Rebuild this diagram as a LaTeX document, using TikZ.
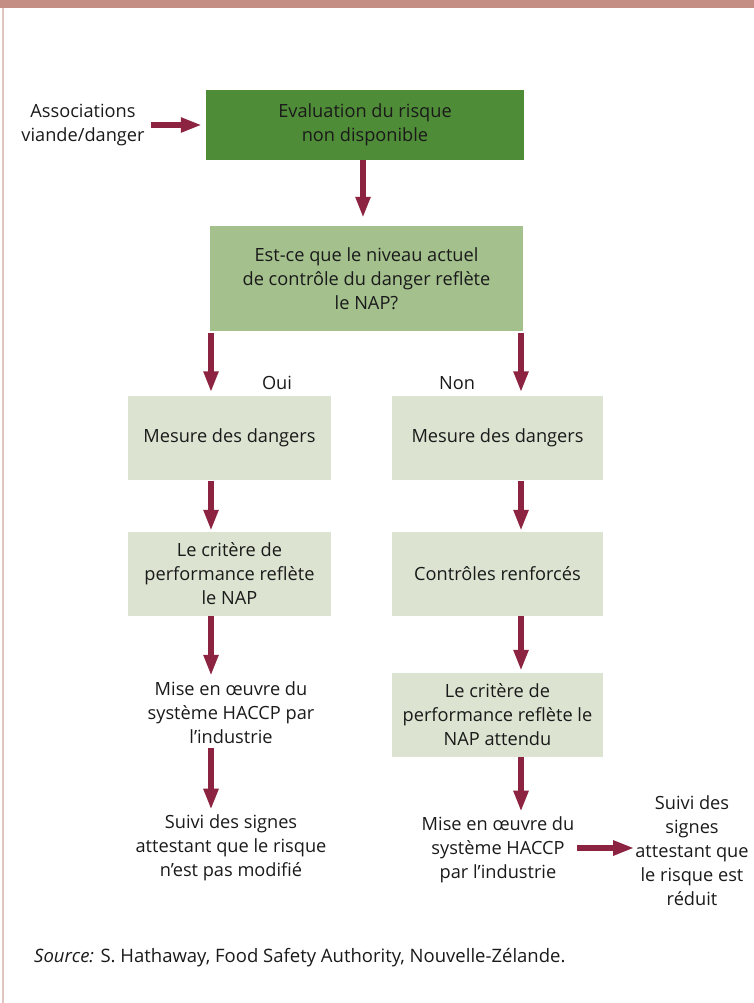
\documentclass[tikz,border=0pt]{standalone}
\usepackage{fontspec}
\setmainfont{Open Sans}
\usetikzlibrary{arrows.meta}

\definecolor{bandrose}{HTML}{C48E84}
\definecolor{edgerose}{HTML}{DFC6C0}
\definecolor{darkgreen}{HTML}{4E8C37}
\definecolor{midgreen}{HTML}{A3C08D}
\definecolor{palegreen}{HTML}{DCE4D1}
\definecolor{arrowred}{HTML}{8C2341}
\definecolor{inkblack}{HTML}{1A1A1A}

\tikzset{
  flow/.style={draw=arrowred, line width=5.5pt, -{Triangle[length=21pt,width=14pt]}},
  txt/.style={text=inkblack, align=center, inner sep=0pt, font=\fontsize{18.2}{24}\selectfont},
  boxnode/.style={txt, minimum width=#1, minimum height=84pt},
}

\begin{document}
\begin{tikzpicture}[x=1pt, y=-1pt]
% Frame
\useasboundingbox (0,0) rectangle (754,1003);
\fill[bandrose] (0,0) rectangle (754,8);
\fill[edgerose] (1.5,8) rectangle (3.5,1003);

% Columns for the arrows
\coordinate (lcol) at (211,0);
\coordinate (rcol) at (521,0);

% Top of the chart
\node[txt] (assoc) at (83,125) {Associations\\viande/danger};
\node[txt, fill=darkgreen, minimum width=318pt, minimum height=70pt] (eval) at (365,125)
  {Evaluation du risque\\non disponible};
\node[txt, fill=midgreen, minimum width=313pt, minimum height=105pt] (niveau) at (366.5,278.5)
  {Est-ce que le niveau actuel\\de contrôle du danger reflète\\le NAP?};

% Left branch
\node[txt] (oui) at (277,383) {Oui};
\node[boxnode=203pt, fill=palegreen] (mesureA) at (229.5,437.5) {Mesure des dangers};
\node[boxnode=203pt, fill=palegreen] (critereA) at (229.5,574)
  {Le critère de\\performance reflète\\le NAP};
\node[txt] (haccpA) at (231,713) {Mise en œuvre du\\système HACCP par\\l’industrie};
\node[txt] (suiviA) at (231,848) {Suivi des signes\\attestant que le risque\\n’est pas modifié};

% Right branch
\node[txt] (non) at (457,383) {Non};
\node[boxnode=211pt, fill=palegreen] (mesureB) at (497.5,437.5) {Mesure des dangers};
\node[boxnode=211pt, fill=palegreen] (controle) at (497.5,574) {Contrôles renforcés};
\node[boxnode=211pt, fill=palegreen] (critereB) at (497.5,715)
  {Le critère de\\performance reflète le\\NAP attendu};
\node[txt] (haccpB) at (498,850) {Mise en œuvre du\\système HACCP\\par l’industrie};
\node[txt] (suiviB) at (692,851) {Suivi des\\signes\\attestant que\\le risque est\\réduit};

% Arrows
\draw[flow, shorten <=6pt, shorten >=4pt] (assoc) -- (eval);
\draw[flow, shorten >=8pt] (eval.south -| 363,0) -- (niveau.north -| 363,0);
\draw[flow, shorten <=2pt, shorten >=3pt] (niveau.south -| lcol) -- (mesureA.north -| lcol);
\draw[flow, shorten <=2pt, shorten >=3pt] (niveau.south -| rcol) -- (mesureB.north -| rcol);
\draw[flow, shorten <=1pt, shorten >=1pt] (mesureA.south -| lcol) -- (critereA.north -| lcol);
\draw[flow, shorten <=1pt, shorten >=1pt] (mesureB.south -| rcol) -- (controle.north -| rcol);
\draw[flow, shorten <=0pt, shorten >=2pt] (controle.south -| rcol) -- (critereB.north -| rcol);
\draw[flow, shorten <=0pt, shorten >=6pt] (critereA.south -| lcol) -- (haccpA.north -| lcol);
\draw[flow, shorten <=4pt, shorten >=5pt] (haccpA.south -| lcol) -- (suiviA.north -| lcol);
\draw[flow, shorten <=0pt, shorten >=5pt] (critereB.south -| rcol) -- (haccpB.north -| rcol);
\draw[flow, shorten <=3pt, shorten >=1pt] (haccpB.east |- 0,848) -- (suiviB.west |- 0,848);

% Source
\node[txt, anchor=west, font=\fontsize{18.5}{22}\selectfont] (source) at (34,958)
  {\textit{Source:} S. Hathaway, Food Safety Authority, Nouvelle-Zélande.};
\end{tikzpicture}
\end{document}
